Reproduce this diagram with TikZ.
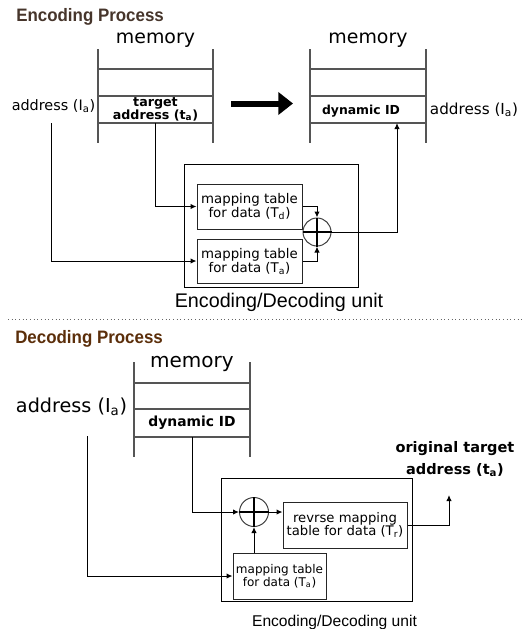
\documentclass[tikz,border=0pt]{standalone}
\usepackage{fontspec}
\setmainfont{DejaVu Sans}
\newfontfamily\arialfont{Liberation Sans}
\usetikzlibrary{arrows.meta,calc}
\definecolor{titleA}{HTML}{46352B}
\definecolor{titleB}{HTML}{5B2E0A}
\definecolor{memline}{HTML}{555555}
\tikzset{
  memln/.style={draw=memline, line width=0.9pt},
  wire/.style={draw=black, line width=0.75pt},
  arr/.style={wire, -{Latex[length=4.5pt,width=4pt]}},
  tablebox/.style={draw=black!85, line width=0.75pt, inner sep=0pt, align=center},
  unitbox/.style={draw=black, line width=0.75pt, inner sep=0pt},
  xorc/.style={circle, draw=black!75, line width=0.75pt, inner sep=0pt},
  xcross/.style={draw=black, line width=1.4pt},
  cell/.style={inner sep=0pt, align=center},
  proctitle/.style={anchor=west, inner sep=0pt, font=\arialfont\bfseries\fontsize{13.5}{14}\selectfont},
  unitlabel/.style={inner sep=0pt, font=\arialfont},
  plain/.style={inner sep=0pt, align=center}
}
\begin{document}
\begin{tikzpicture}[x=0.75pt,y=-0.75pt]
\useasboundingbox (0,0) rectangle (527,629);

% ---------------- Encoding process ----------------
\node[proctitle, text=titleA] (enctitle) at (16,16.5) {\scalebox{0.94}[1]{Encoding Process}};

% memory before encoding
\draw[memln] (98,49) -- (98,143) (213,49) -- (213,143);
\draw[memln] (98,69) -- (213,69) (98,96) -- (213,96) (98,123) -- (213,123);
\node[plain, font=\fontsize{14.2}{16}\selectfont] (memA) at (155.5,40) {memory};
\node[plain, font=\fontsize{10.8}{12}\selectfont] (addrA) at (53.5,106) {address (I\textsubscript{a})};
\node[cell, minimum width=115*0.75pt, minimum height=27*0.75pt,
      font=\bfseries\fontsize{9.5}{9.8}\selectfont] (tgt) at (155.5,109.5)
      {target\\address (t\textsubscript{a})};

% memory after encoding
\draw[memln] (310,49) -- (310,143) (426,49) -- (426,143);
\draw[memln] (310,69) -- (426,69) (310,96) -- (426,96) (310,123) -- (426,123);
\node[plain, font=\fontsize{14.2}{16}\selectfont] (memB) at (368,40) {memory};
\node[plain, font=\bfseries\fontsize{9.3}{11}\selectfont] (dyn1) at (361,111) {dynamic ID};
\node[plain, font=\fontsize{11.4}{13}\selectfont] (addrB) at (474,110) {address (I\textsubscript{a})};

% transition arrow
\coordinate (bigS) at (231,103.5);
\coordinate (bigE) at (293,103.5);
\draw[line width=4.5pt, -{Triangle[length=11pt,width=16.5pt]}] (bigS) -- (bigE);

% encoding/decoding unit
\node[unitbox, minimum width=174*0.75pt, minimum height=123*0.75pt] (unit1) at (271,225.5) {};
\node[tablebox, minimum width=105*0.75pt, minimum height=45*0.75pt,
      font=\fontsize{10}{10.5}\selectfont] (td1) at (249.5,206.5)
      {mapping table\\for data (T\textsubscript{d})};
\node[tablebox, minimum width=105*0.75pt, minimum height=44*0.75pt,
      font=\fontsize{10}{10.5}\selectfont] (ta1) at (249.5,261)
      {mapping table\\for data (T\textsubscript{a})};
\node[xorc, minimum size=28*0.75pt] (x1) at (317,232) {};
\draw[xcross] (x1.north) -- (x1.south) (x1.west) -- (x1.east);
\node[unitlabel, font=\arialfont\fontsize{14.8}{16}\selectfont] (unitlab1) at (279,302) {Encoding/Decoding unit};

% encoding connectors
\coordinate (la1) at (51,123);
\coordinate (d1) at (397,123);
\draw[arr] (la1) |- (ta1.west);
\draw[arr] (tgt.south) |- (td1.west);
\draw[arr] (td1.east) -| (x1.north);
\draw[arr] (ta1.east) -| (x1.south);
\draw[arr] (x1.east) -| (d1);

% separator
\coordinate (sepL) at (8,319);
\coordinate (sepR) at (522,319);
\draw[dotted, line width=0.75pt, black!60] (sepL) -- (sepR);

% ---------------- Decoding process ----------------
\node[proctitle, text=titleB] (dectitle) at (15,338.5) {\scalebox{0.94}[1]{Decoding Process}};

\draw[memln] (134,362) -- (134,457) (250,362) -- (250,457);
\draw[memln] (134,383) -- (250,383) (134,409) -- (250,409) (134,437) -- (250,437);
\node[plain, font=\fontsize{15}{17}\selectfont] (memC) at (192,364) {memory};
\node[plain, font=\fontsize{14.4}{16}\selectfont] (addrC) at (71.5,407) {address (I\textsubscript{a})};
\node[cell, minimum width=116*0.75pt, minimum height=28*0.75pt,
      font=\bfseries\fontsize{10.4}{12}\selectfont] (dyn2) at (192,423) {dynamic ID};

\node[unitbox, minimum width=191*0.75pt, minimum height=123*0.75pt] (unit2) at (316.5,539.5) {};
\node[tablebox, minimum width=124*0.75pt, minimum height=46*0.75pt,
      font=\fontsize{9.9}{9.8}\selectfont] (rev) at (345,525)
      {revrse mapping\\table for data (T\textsubscript{r})};
\node[tablebox, minimum width=93*0.75pt, minimum height=46*0.75pt,
      font=\fontsize{9}{7.8}\selectfont] (ta2) at (279.5,576)
      {mapping table\\for data (T\textsubscript{a})};
\node[xorc, minimum size=29*0.75pt] (x2) at (254,512) {};
\draw[xcross] (x2.north) -- (x2.south) (x2.west) -- (x2.east);
\node[unitlabel, font=\arialfont\fontsize{11.7}{13}\selectfont] (unitlab2) at (334.5,622) {Encoding/Decoding unit};

\node[plain, font=\bfseries\fontsize{10.9}{16.5}\selectfont] (orig) at (455,459)
      {original target\\address (t\textsubscript{a})};

% decoding connectors
\coordinate (la2) at (87,436);
\coordinate (o2) at (449,495);
\draw[arr] (la2) |- (ta2.west);
\draw[arr] (dyn2.south) |- (x2.west);
\draw[arr] (x2.east) -- (x2.east -| rev.west);
\draw[arr] (ta2.north -| x2.south) -- (x2.south);
\draw[arr] (rev.east) -| (o2);
\end{tikzpicture}
\end{document}
